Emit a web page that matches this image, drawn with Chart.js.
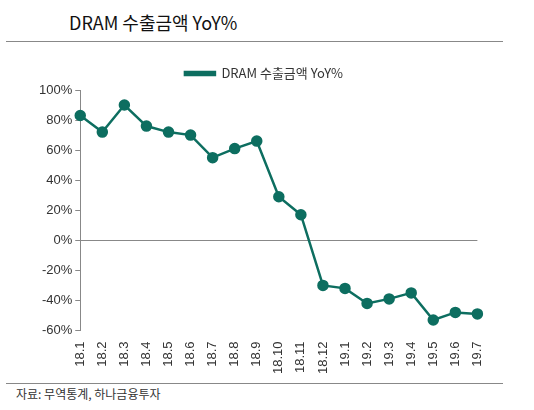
<!DOCTYPE html>
<html><head><meta charset="utf-8">
<script src="https://cdn.jsdelivr.net/npm/chart.js@4"></script>
<style>
body{margin:0;width:534px;height:410px;background:#fff;font-family:"Noto Sans CJK KR","Noto Sans",sans-serif;position:relative;overflow:hidden}
#title{position:absolute;left:69px;top:9px;font-size:18px;color:#111}
.rule{position:absolute;left:6px;width:497px;height:1px;background:#888}
#src{position:absolute;left:16px;top:385px;font-size:12px;color:#333}
#wrap{position:absolute;left:36px;top:57px;width:460px;height:320px}
</style></head><body>
<div id="title">DRAM 수출금액 YoY%</div>
<div class="rule" style="top:41px"></div>
<div class="rule" style="top:383px"></div>
<div id="src">자료: 무역통계, 하나금융투자</div>
<div id="wrap"><canvas id="c"></canvas></div>
<script>
const labels = ["18.1","18.2","18.3","18.4","18.5","18.6","18.7","18.8","18.9","18.10","18.11","18.12","19.1","19.2","19.3","19.4","19.5","19.6","19.7"];
const yoy = [83,72,90,76,72,70,55,61,66,29,17,-30,-32,-42,-39,-35,-53,-48,-49];
const teal = "#0d6e60";
new Chart(document.getElementById("c"), {
  type: "line",
  data: { labels: labels, datasets: [{ label: "DRAM 수출금액 YoY%", data: yoy, borderColor: teal, backgroundColor: teal, borderWidth: 2.5, pointRadius: 4.5, pointBackgroundColor: teal }] },
  options: {
    responsive: true, maintainAspectRatio: false, animation: false,
    layout: { padding: { right: 4 } },
    plugins: {
      legend: { labels: { boxWidth: 30, boxHeight: 3, color: "#333", font: { size: 13, family: "Noto Sans CJK KR" } } },
      tooltip: false
    },
    scales: {
      x: {
        grid: { display: false }, border: { display: false },
        ticks: { minRotation: 90, maxRotation: 90, color: "#333", font: { size: 13 } }
      },
      y: {
        min: -60, max: 100,
        grid: { drawOnChartArea: true, color: (ctx) => ctx.tick.value === 0 ? "#888" : "transparent", tickLength: 5, tickColor: "#888" },
        border: { color: "#888" },
        ticks: { stepSize: 20, color: "#333", font: { size: 13 }, callback: (v) => v + "%" }
      }
    }
  }
});
</script>
</body></html>
